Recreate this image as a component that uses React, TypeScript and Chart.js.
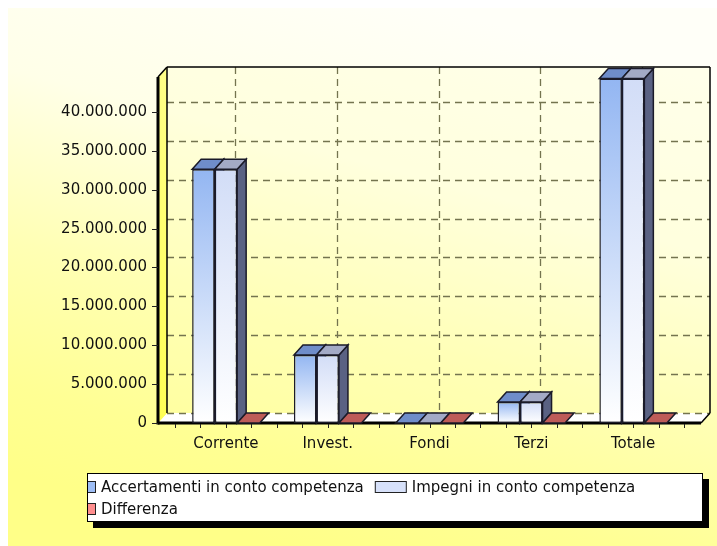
import React, { useEffect, useRef } from 'react';
import { Chart, registerables } from 'chart.js';

Chart.register(...registerables);

// ---- data ----
const categories = ['Corrente', 'Invest.', 'Fondi', 'Terzi', 'Totale'];
const accertamenti = [32650000, 8750000, 0, 2700000, 44300000];
const impegni = [32650000, 8750000, 0, 2700000, 44300000];
const differenza = [0, 0, 0, 0, 0];
const seriesLabels = ['Accertamenti in conto competenza', 'Impegni in conto competenza', 'Differenza'];
const yTickValues = [0, 5000000, 10000000, 15000000, 20000000, 25000000, 30000000, 35000000, 40000000];
const yAxisMax = 44500000;

// ---- style ----
const FONT = '"DejaVu Sans", Verdana, sans-serif';
const DX = 9;
const DY = 10;
const FRAME_PAD = 17;
const OUTLINE = '#1b1b29';

const seriesStyle = [
  { front: ['#93B6F2', '#FFFFFF'], top: '#6F8DCA', side: '#4E6699', swatch: '#9DBDF5' },
  { front: ['#D2DDF7', '#FFFFFF'], top: '#A3AAC6', side: '#5A6283', swatch: '#D7E1FA' },
  { front: ['#FF9090', '#FFD0D0'], top: '#BE5C58', side: '#7A3030', swatch: '#FF8E8E' },
];

const formatIt = (v: number) => String(Math.round(v)).replace(/\B(?=(\d{3})+(?!\d))/g, '.');

function frontFill(topColor: string, bottomColor: string) {
  return (c: any) => {
    const chart = c.chart;
    const ys = chart.scales && chart.scales.y;
    if (!ys || c.type !== 'data' || !c.parsed) return topColor;
    const v = c.parsed.y || 0;
    const top = ys.getPixelForValue(v);
    const base = ys.getPixelForValue(0);
    if (!isFinite(top) || !isFinite(base) || Math.abs(base - top) < 1) return topColor;
    const g = chart.ctx.createLinearGradient(0, top, 0, base);
    g.addColorStop(0, topColor);
    g.addColorStop(1, bottomColor);
    return g;
  };
}

function frame(chart: any) {
  const ca = chart.chartArea;
  const fl = ca.left - FRAME_PAD;
  const fr = ca.right + FRAME_PAD;
  const ft = ca.top;
  const fb = ca.bottom;
  return { fl, fr, ft, fb, bl: fl + DX, br: fr + DX, bt: ft - DY, bb: fb - DY };
}

function poly(ctx: CanvasRenderingContext2D, pts: number[][], fill: any, stroke?: string, lw = 1) {
  ctx.beginPath();
  ctx.moveTo(pts[0][0], pts[0][1]);
  for (let i = 1; i < pts.length; i++) ctx.lineTo(pts[i][0], pts[i][1]);
  ctx.closePath();
  if (fill) {
    ctx.fillStyle = fill;
    ctx.fill();
  }
  if (stroke) {
    ctx.strokeStyle = stroke;
    ctx.lineWidth = lw;
    ctx.stroke();
  }
}

function line(ctx: CanvasRenderingContext2D, x1: number, y1: number, x2: number, y2: number) {
  ctx.beginPath();
  ctx.moveTo(x1, y1);
  ctx.lineTo(x2, y2);
  ctx.stroke();
}

function barGeom(el: any) {
  const p = el.getProps(['x', 'y', 'base', 'width'], true);
  const left = p.x - p.width / 2;
  const right = p.x + p.width / 2;
  const top = Math.min(p.y, p.base);
  const base = Math.max(p.y, p.base);
  return { left, right, top, base };
}

const pseudo3d = {
  id: 'pseudo3d',
  beforeDraw(chart: any) {
    const { ctx, width: w, height: h } = chart;
    ctx.save();
    const g = ctx.createLinearGradient(w * 0.6, 0, w * 0.4, h);
    g.addColorStop(0, '#FFFFF8');
    g.addColorStop(0.3, '#FFFFE8');
    g.addColorStop(0.6, '#FFFFB4');
    g.addColorStop(0.85, '#FFFF94');
    g.addColorStop(1, '#FFFF88');
    ctx.fillStyle = g;
    ctx.fillRect(0, 0, w, h);
    ctx.restore();
  },
  beforeDatasetsDraw(chart: any) {
    const { ctx, scales } = chart;
    const xs = scales.x;
    const ys = scales.y;
    const ca = chart.chartArea;
    const f = frame(chart);
    ctx.save();
    // back wall
    ctx.fillStyle = 'rgba(255,255,190,0.25)';
    ctx.fillRect(f.bl, f.bt, f.br - f.bl, f.bb - f.bt);
    // floor
    poly(ctx, [[f.fl, f.fb], [f.fr, f.fb], [f.br, f.bb], [f.bl, f.bb]], '#FFFFFF');
    // left wall
    const lg = ctx.createLinearGradient(0, f.bt, 0, f.fb);
    lg.addColorStop(0, '#FFFF88');
    lg.addColorStop(1, '#FFFF55');
    poly(ctx, [[f.fl, f.ft], [f.bl, f.bt], [f.bl, f.bb], [f.fl, f.fb]], lg);
    // grid
    ctx.setLineDash([7, 5]);
    ctx.strokeStyle = '#74744F';
    ctx.lineWidth = 1.3;
    ys.ticks.forEach((t: any) => {
      const y = Math.round(ys.getPixelForValue(t.value) - DY) + 0.5;
      line(ctx, f.bl, y, f.br, y);
    });
    xs.ticks.forEach((_t: any, i: number) => {
      const x = Math.round(xs.getPixelForTick(i) + DX) + 0.5;
      line(ctx, x, f.bt, x, f.bb);
    });
    ctx.setLineDash([]);
    // outlines
    ctx.strokeStyle = '#000';
    ctx.lineWidth = 1.5;
    line(ctx, f.bl, f.bt, f.br, f.bt);
    line(ctx, f.br, f.bt, f.br, f.bb);
    line(ctx, f.br, f.bb, f.fr, f.fb);
    line(ctx, f.fl, f.ft, f.bl, f.bt);
    line(ctx, f.bl, f.bt, f.bl, f.bb);
    ctx.lineWidth = 3;
    line(ctx, f.fl, f.ft, f.fl, f.fb + 1.5);
    line(ctx, f.fl, f.fb, f.fr, f.fb);
    // y tick marks
    ctx.lineWidth = 1;
    ctx.strokeStyle = '#222';
    ys.ticks.forEach((t: any) => {
      const y = Math.round(ys.getPixelForValue(t.value)) + 0.5;
      line(ctx, f.fl - 6, y, f.fl, y);
    });
    // x tick marks (quarter categories)
    const n = categories.length * 4;
    for (let k = 0; k <= n; k++) {
      const x = Math.round(ca.left + (k * (ca.right - ca.left)) / n) + 0.5;
      line(ctx, x, f.fb + 1, x, f.fb + 5);
    }
    // bar side faces
    chart.data.datasets.forEach((_ds: any, di: number) => {
      const meta = chart.getDatasetMeta(di);
      meta.data.forEach((el: any) => {
        const g = barGeom(el);
        if (g.base - g.top < 0.5) return;
        poly(
          ctx,
          [[g.right, g.top], [g.right + DX, g.top - DY], [g.right + DX, g.base - DY], [g.right, g.base]],
          seriesStyle[di].side,
          OUTLINE,
          1.5
        );
      });
    });
    ctx.restore();
  },
  afterDatasetsDraw(chart: any) {
    const { ctx } = chart;
    ctx.save();
    chart.data.datasets.forEach((_ds: any, di: number) => {
      const meta = chart.getDatasetMeta(di);
      meta.data.forEach((el: any) => {
        const g = barGeom(el);
        poly(
          ctx,
          [[g.left, g.top], [g.right, g.top], [g.right + DX, g.top - DY], [g.left + DX, g.top - DY]],
          seriesStyle[di].top,
          OUTLINE,
          1.5
        );
      });
    });
    ctx.restore();
  },
  afterDraw(chart: any) {
    const { ctx, width: w, height: h } = chart;
    ctx.save();
    const bx = 79;
    const by = h - 73;
    const bw = w - 14 - bx;
    const bh = 49;
    ctx.fillStyle = '#000';
    ctx.fillRect(bx + 6, by + 6, bw, bh);
    ctx.fillStyle = '#FFFFFF';
    ctx.fillRect(bx, by, bw, bh);
    ctx.save();
    ctx.beginPath();
    ctx.rect(bx, by, bw, bh);
    ctx.clip();
    ctx.font = '15px ' + FONT;
    ctx.textBaseline = 'middle';
    ctx.textAlign = 'left';
    const rows = [[0, 1], [2]];
    rows.forEach((row, ri) => {
      const cy = by + 14 + ri * 22;
      let x = 56;
      row.forEach((si) => {
        ctx.fillStyle = seriesStyle[si].swatch;
        ctx.fillRect(x, cy - 6, 32, 12);
        ctx.strokeStyle = '#222';
        ctx.lineWidth = 1;
        ctx.strokeRect(x + 0.5, cy - 5.5, 31, 11);
        ctx.fillStyle = '#111';
        ctx.fillText(seriesLabels[si], x + 37, cy + 1);
        x += 37 + ctx.measureText(seriesLabels[si]).width + 11;
      });
    });
    ctx.restore();
    ctx.strokeStyle = '#000';
    ctx.lineWidth = 1;
    ctx.strokeRect(bx + 0.5, by + 0.5, bw - 1, bh - 1);
    ctx.restore();
  },
};

export default function App() {
  const ref = useRef<HTMLCanvasElement | null>(null);
  useEffect(() => {
    if (!ref.current) return;
    const datasets = [accertamenti, impegni, differenza].map((d, i) => ({
      label: seriesLabels[i],
      data: d,
      backgroundColor: frontFill(seriesStyle[i].front[0], seriesStyle[i].front[1]),
      borderColor: OUTLINE,
      borderWidth: 1.5,
      borderSkipped: false,
      categoryPercentage: 0.663,
      barPercentage: 1,
    }));
    const chart = new Chart(ref.current, {
      type: 'bar',
      data: { labels: categories, datasets },
      options: {
        responsive: false,
        animation: false,
        layout: { padding: { left: 0, right: 33, top: 69, bottom: 0 } },
        plugins: { legend: { display: false }, tooltip: { enabled: false } },
        scales: {
          x: {
            grid: { display: false, drawTicks: false },
            border: { display: false },
            ticks: {
              color: '#111',
              font: { family: FONT, size: 15 },
              padding: 12,
              maxRotation: 0,
              autoSkip: false,
            },
            afterFit: (s: any) => {
              s.height = 123;
            },
          },
          y: {
            min: 0,
            max: yAxisMax,
            bounds: 'data',
            grid: { display: false, drawTicks: false },
            border: { display: false },
            afterBuildTicks: (s: any) => {
              s.ticks = yTickValues.map((v) => ({ value: v }));
            },
            ticks: {
              padding: 28,
              color: '#111',
              autoSkip: false,
              font: { family: FONT, size: 15 },
              callback: (v: any) => formatIt(Number(v)),
            },
            afterFit: (s: any) => {
              s.width = 167;
            },
          },
        },
      } as any,
      plugins: [pseudo3d],
    });
    return () => chart.destroy();
  }, []);
  return (
    <div style={{ position: 'absolute', left: 8, top: 8, width: 709, height: 538 }}>
      <canvas ref={ref} width={709} height={538} style={{ display: 'block' }} />
    </div>
  );
}
